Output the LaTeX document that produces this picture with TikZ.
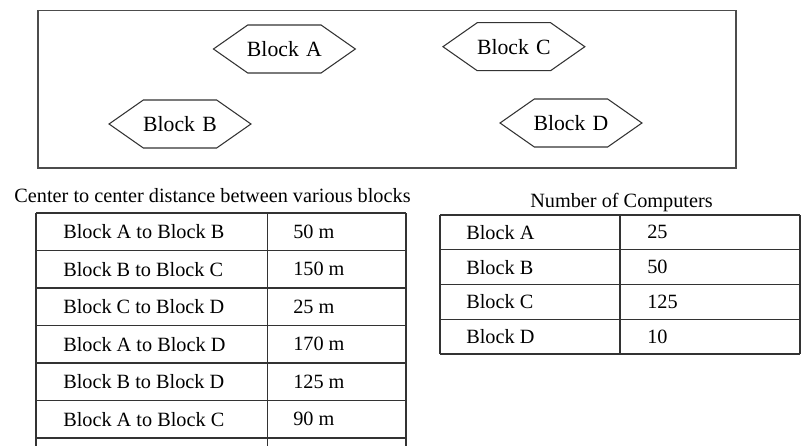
\documentclass[tikz,border=0pt]{standalone}
\usepackage{fontspec}
\setmainfont{Liberation Serif}
\usetikzlibrary{shapes.symbols,positioning}

\begin{document}
\begin{tikzpicture}[x=0.75pt,y=-0.75pt,
                    block node/.style={signal,signal to=east and west,signal pointer angle=70,
                      draw=black!80,line width=0.8pt,text width=60pt,align=center,inner xsep=-2.5pt,
                      minimum height=36pt,font=\fontsize{16.3}{19}\selectfont},
                    cell/.style={anchor=west,inner sep=0pt,font=\fontsize{15.2}{18}\selectfont},
                    grid line/.style={draw=black!80,line width=0.9pt}]

  \useasboundingbox (0,0) rectangle (808,446);

  % campus with the four blocks
  \draw[black!70,line width=1.1pt] (38,10.7) rectangle (736,168);
  \node[block node] (A) at (284.4,49) {Block A};
  \node[block node] (C) at (513.9,46.7) {Block C};
  \node[block node] (B) at (180,124) {Block B};
  \node[block node] (D) at (571,123) {Block D};

  % distances between blocks
  \node[cell,anchor=base] (distcap) at (212.5,202) {Center to center distance between various blocks};
  \foreach \i/\pair/\dist in {1/{Block A to Block B}/50 m,2/{Block B to Block C}/150 m,
                              3/{Block C to Block D}/25 m,4/{Block A to Block D}/170 m,
                              5/{Block B to Block D}/125 m,6/{Block A to Block C}/90 m} {
    \node[cell] (pair\i) at (63,194.25+37.5*\i) {\pair};
    \node[cell] (dist\i) at (293,194.25+37.5*\i) {\dist};
  }
  \foreach \k in {0,...,6}
    \draw[grid line] (36,213+37.5*\k) -- (406,213+37.5*\k);
  \foreach \x in {36,267.7,406}
    \draw[grid line] (\x,213) -- (\x,446);

  % computers in each block
  \node[cell,anchor=base] (compcap) at (621.5,207) {Number of Computers};
  \foreach \i/\blk/\num in {1/A/25,2/B/50,3/C/125,4/D/10} {
    \node[cell] (name\i) at (466,197.625+34.75*\i) {Block \blk};
    \node[cell] (num\i) at (647,197.625+34.75*\i) {\num};
  }
  \foreach \k in {0,...,4}
    \draw[grid line] (440,215+34.75*\k) -- (800,215+34.75*\k);
  \foreach \x in {440,620,800}
    \draw[grid line] (\x,215) -- (\x,354);

\end{tikzpicture}
\end{document}
